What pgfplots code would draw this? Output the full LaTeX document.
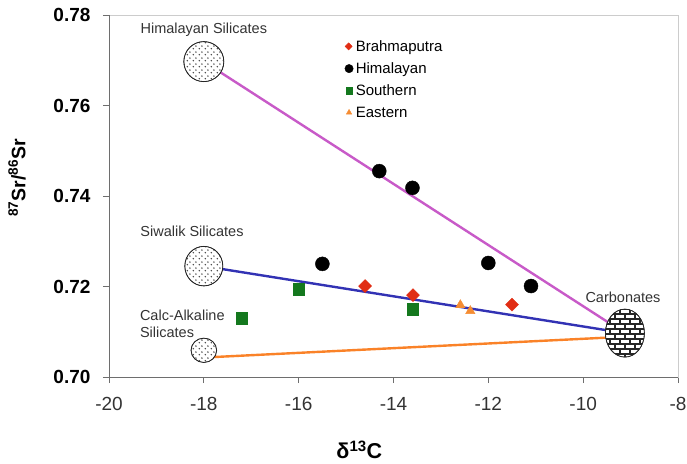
\documentclass[border=0pt]{standalone}
\usepackage{fontspec}
\setmainfont{Liberation Sans}
\usepackage{pgfplots}
\pgfplotsset{compat=1.18}
\usetikzlibrary{patterns,patterns.meta}
\definecolor{magline}{RGB}{200,90,200}
\definecolor{blueline}{RGB}{50,50,180}
\definecolor{orline}{RGB}{250,130,40}
\definecolor{redm}{RGB}{225,45,20}
\definecolor{greenm}{RGB}{20,120,30}
\definecolor{orm}{RGB}{245,140,50}
\definecolor{axgray}{RGB}{110,110,110}
\tikzdeclarepattern{
  name=sdots, type=uncolored,
  bottom left={(0bp,0bp)}, top right={(6bp,6bp)}, tile size={(6bp,6bp)},
  code={\fill (1.5bp,1.5bp) circle (0.9bp); \fill (4.5bp,4.5bp) circle (0.9bp);}
}
\tikzdeclarepattern{
  name=mybricks, type=uncolored,
  bottom left={(-1bp,-1bp)}, top right={(11bp,11bp)}, tile size={(10bp,10bp)},
  code={\draw[line width=1.3bp] (0bp,0bp) -- (10bp,0bp) (0bp,5bp) -- (10bp,5bp) (0bp,10bp) -- (10bp,10bp)
        (0bp,0bp) -- (0bp,5bp) (10bp,0bp) -- (10bp,5bp) (5bp,5bp) -- (5bp,10bp);}
}
\begin{document}
\begin{tikzpicture}
\begin{axis}[
  scale only axis, width=569bp, height=362bp,
  xmin=-20, xmax=-8, ymin=0.70, ymax=0.78,
  xtick={-20,-18,-16,-14,-12,-10,-8},
  ytick={0.70,0.72,0.74,0.76,0.78},
  clip=false,
  axis line style={draw=black!20, line width=0.8bp},
  xtick pos=bottom, ytick pos=left,
  tick align=outside, major tick length=6bp,
  tick style={axgray, line width=0.8bp},
  /pgf/number format/assume math mode=true,
  xticklabel style={font=\fontsize{19bp}{22bp}\selectfont, text=black!80, yshift=-11bp},
  yticklabel style={font=\fontsize{19bp}{22bp}\selectfont\bfseries, text=black, xshift=-9bp,
    /pgf/number format/.cd, fixed, fixed zerofill, precision=2},
  legend style={at={(axis cs:-15.03,0.7749)}, anchor=north west, draw=none, fill=none,
    font=\fontsize{15bp}{18bp}\selectfont, row sep=5.8bp, inner sep=0pt,
    nodes={inner xsep=2.5bp}},
  legend cell align=left,
]
\coordinate (sw) at (rel axis cs:0,0);
\coordinate (ne) at (rel axis cs:1,1);
\draw[axgray, line width=0.9bp] (rel axis cs:0,1) -- (rel axis cs:0,0) -- (rel axis cs:1,0);

% mixing lines
\addplot[forget plot, magline, line width=2.4bp] coordinates {(-18,0.7697) (-9.12,0.7097)};
\addplot[forget plot, blueline, line width=2.4bp] coordinates {(-18,0.7245) (-9.12,0.7097)};
\addplot[forget plot, orline, line width=2.4bp] coordinates {(-18,0.7043) (-9.12,0.7089)};

% end-member fields
\addplot[forget plot, only marks, mark=*, mark size=20bp, mark options={fill=white, draw=none}] coordinates {(-18,0.7697)};
\addplot[forget plot, only marks, mark=*, mark size=20bp, mark options={draw=black!85, line width=0.8bp, pattern=sdots, pattern color=black!75}] coordinates {(-18,0.7697)};
\addplot[forget plot, only marks, mark=*, mark size=19bp, mark options={yscale=1.04, fill=white, draw=none}] coordinates {(-18,0.7245)};
\addplot[forget plot, only marks, mark=*, mark size=19bp, mark options={yscale=1.04, draw=black!85, line width=0.8bp, pattern=sdots, pattern color=black!75}] coordinates {(-18,0.7245)};
\addplot[forget plot, only marks, mark=*, mark size=12.8bp, mark options={yscale=0.95, fill=white, draw=none}] coordinates {(-18,0.7059)};
\addplot[forget plot, only marks, mark=*, mark size=12.8bp, mark options={yscale=0.95, draw=black!85, line width=0.8bp, pattern=sdots, pattern color=black!75}] coordinates {(-18,0.7059)};
\addplot[forget plot, only marks, mark=*, mark size=19.5bp, mark options={yscale=1.23, fill=white, draw=none}] coordinates {(-9.12,0.7097)};
\addplot[forget plot, only marks, mark=*, mark size=19.5bp, mark options={yscale=1.23, draw=black!85, line width=0.8bp, pattern=mybricks, pattern color=black!85}] coordinates {(-9.12,0.7097)};

% data
\addplot[only marks, mark=square*, mark size=4.6bp, mark options={rotate=45, fill=redm, draw=redm},
  legend image post style={scale=0.55}]
  coordinates {(-14.6,0.7201) (-13.59,0.7181) (-11.5,0.7160)};
\addlegendentry{Brahmaputra}
\addplot[only marks, mark=*, mark size=7bp, mark options={fill=black, draw=black},
  legend image post style={scale=0.6}]
  coordinates {(-14.3,0.7455) (-13.6,0.7418) (-15.5,0.7250) (-12.0,0.7252) (-11.1,0.7201)};
\addlegendentry{Himalayan}
\addplot[only marks, mark=square*, mark size=5.6bp, mark options={fill=greenm, draw=greenm},
  legend image post style={scale=0.6}]
  coordinates {(-16.0,0.7194) (-17.2,0.7130) (-13.6,0.7150)};
\addlegendentry{Southern}
\addplot[only marks, mark=triangle*, mark size=5.4bp, mark options={fill=orm, draw=orm},
  legend image post style={scale=0.6}]
  coordinates {(-12.59,0.7159) (-12.38,0.7146)};
\addlegendentry{Eastern}

% annotations
\node[font=\fontsize{14.5bp}{17bp}\selectfont, text=black!80] at (axis cs:-18.0,0.7767) {Himalayan Silicates};
\node[font=\fontsize{14.5bp}{17bp}\selectfont, text=black!80] at (axis cs:-18.25,0.7323) {Siwalik Silicates};
\node[font=\fontsize{14.5bp}{17bp}\selectfont, text=black!80, anchor=west, align=left, inner sep=0pt] at (axis cs:-19.35,0.7118) {Calc-Alkaline\\Silicates};
\node[font=\fontsize{14.5bp}{17bp}\selectfont, text=black!80] at (axis cs:-9.16,0.7175) {Carbonates};

% axis titles
\node[font=\fontsize{21.5bp}{24bp}\selectfont\bfseries, anchor=center] at (rel axis cs:0.44,-0.2017) {δ\textsuperscript{13}C};
\node[font=\fontsize{19.5bp}{24bp}\selectfont\bfseries, anchor=center, rotate=90] at (rel axis cs:-0.1617,0.55) {\textsuperscript{87}Sr/\textsuperscript{86}Sr};
\end{axis}
\pgfresetboundingbox
\path ([shift={(-109bp,-87bp)}]sw) rectangle ([shift={(9bp,15bp)}]ne);
\end{tikzpicture}
\end{document}
